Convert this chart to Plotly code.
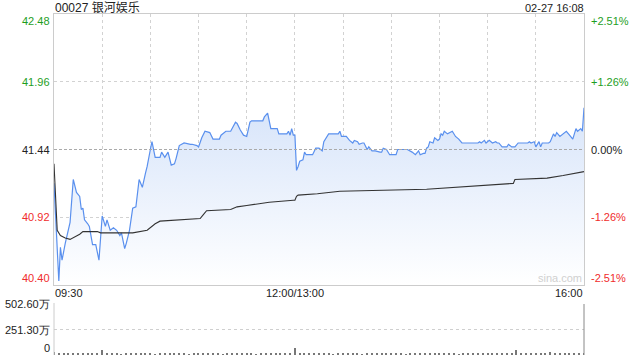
import plotly.graph_objects as go

# ---------------- data ----------------
title_text = "00027 银河娱乐"
stamp_text = "02-27 16:08"
prev_close = 41.44

price_times = ["09:30","09:33","09:34","09:35","09:37","09:40","09:42","09:44","09:46","09:47",
               "09:48","09:49","09:51","09:52","09:54","09:56","09:58","09:59","10:00","10:02",
               "10:03","10:05","10:07","10:09","10:11","10:12","10:14","10:15","10:17","10:19",
               "10:21","10:23","10:25","10:27","10:28","10:30","10:31","10:33","10:36","10:37",
               "10:39","10:41","10:42","10:43","10:45","10:46","10:48","10:51","10:55","10:56",
               "10:59","11:00","11:02","11:04","11:07","11:09","11:13","11:14","11:17","11:20",
               "11:23","11:24","11:26","11:28","11:30","11:32","11:33","11:40","11:41","11:43",
               "11:45","11:49","11:50","11:55","11:56","11:57","11:58","11:59","12:00",
               "13:01","13:02","13:03","13:05","13:06","13:07","13:09","13:11","13:13","13:15",
               "13:16","13:17","13:18","13:21","13:22","13:27","13:28","13:29","13:32","13:34",
               "13:36","13:37","13:39","13:40","13:42","13:43","13:45","13:46","13:48","13:50",
               "13:53","13:54","13:55","13:57","13:59","14:03","14:04","14:09","14:10","14:13",
               "14:15","14:17","14:18","14:20","14:21","14:22","14:23","14:24","14:26","14:27",
               "14:29","14:30","14:31","14:32","14:33","14:35","14:37","14:38","14:40","14:42",
               "14:44","14:48","14:54","14:55","14:56","14:58","14:59","15:01","15:03","15:05",
               "15:06","15:07","15:09","15:12","15:13","15:15","15:17","15:19","15:22","15:25",
               "15:26","15:27","15:29","15:30","15:32","15:33","15:34","15:38","15:39","15:41",
               "15:42","15:43","15:45","15:47","15:49","15:51","15:53","15:55","15:56","15:58",
               "15:59","16:00"]
price_values = [41.18,40.43,40.69,40.59,40.72,40.88,41.21,41.11,41.08,40.98,
                40.99,40.90,40.87,40.85,40.71,40.71,40.59,40.77,40.93,40.85,
                40.90,40.82,40.84,40.82,40.78,40.80,40.68,40.72,40.82,40.99,
                41.00,41.21,41.15,41.26,41.31,41.44,41.50,41.38,41.38,41.42,
                41.38,41.42,41.36,41.32,41.33,41.37,41.47,41.49,41.48,41.48,
                41.47,41.46,41.53,41.58,41.57,41.52,41.52,41.55,41.58,41.58,
                41.65,41.64,41.59,41.55,41.54,41.65,41.66,41.66,41.69,41.72,
                41.60,41.60,41.56,41.56,41.58,41.55,41.60,41.55,41.55,
                41.28,41.31,41.35,41.36,41.42,41.40,41.40,41.40,41.45,41.45,
                41.44,41.43,41.50,41.56,41.56,41.56,41.58,41.54,41.54,41.51,
                41.49,41.51,41.50,41.48,41.49,41.49,41.44,41.46,41.43,41.43,
                41.42,41.42,41.45,41.44,41.40,41.40,41.44,41.44,41.44,41.42,
                41.40,41.43,41.40,41.41,41.41,41.45,41.46,41.50,41.49,41.53,
                41.51,41.52,41.56,41.55,41.58,41.56,41.57,41.58,41.54,41.52,
                41.49,41.49,41.49,41.50,41.49,41.51,41.49,41.51,41.49,41.50,
                41.49,41.49,41.46,41.46,41.48,41.46,41.46,41.49,41.49,41.49,
                41.50,41.49,41.50,41.46,41.50,41.46,41.49,41.49,41.50,41.56,
                41.54,41.57,41.54,41.56,41.58,41.55,41.52,41.60,41.58,41.60,
                41.58,41.76]

avg_times = ["09:30","09:32","09:34","09:37","09:40","09:43","09:46","09:48","09:52","09:57",
             "09:59","10:19","10:28","10:31","10:33","10:36","10:46","11:01","11:03","11:05",
             "11:20","11:24","11:30","11:42","11:44","11:59","12:00","13:01","13:02","13:14",
             "13:28","14:22","15:01","15:16","15:17","15:31","15:37","15:47","16:00"]
avg_values = [41.33,40.82,40.78,40.76,40.75,40.77,40.79,40.81,40.81,40.81,
              40.80,40.80,40.82,40.85,40.87,40.89,40.90,40.91,40.94,40.97,
              40.98,41.00,41.01,41.03,41.035,41.05,41.05,41.08,41.09,41.10,
              41.12,41.135,41.17,41.18,41.21,41.22,41.22,41.24,41.27]

# volume in 万 shares, one bar every 3 trading minutes from 09:30
volume_values = [30,24,14,12,10,12,11,13,10,12,
                 45,12,10,11,9,12,10,11,12,10,
                 11,9,10,12,10,11,13,10,9,11,
                 12,10,11,10,12,9,11,10,12,10,
                 11,10,9,12,10,11,10,12,11,10,
                 70,14,12,11,10,12,10,11,9,12,
                 10,11,12,10,9,11,12,10,11,10,
                 12,11,10,9,12,10,11,10,12,11,
                 10,12,11,10,9,12,11,10,12,10,
                 11,10,12,11,10,12,50,14,12,11,
                 10,12,11,30,10,12,11,10,12,11,
                 13]

left_ticks = [42.48, 41.96, 41.44, 40.92, 40.40]
right_ticks = ["+2.51%", "+1.26%", "0.00%", "-1.26%", "-2.51%"]
vol_ticks = [502.60, 251.30, 0]
vol_tick_text = ["502.60万", "251.30万", "0"]
x_labels = ["09:30", "12:00/13:00", "16:00"]

# ---------------- helpers ----------------
def minute_index(t):
    h, m = map(int, t.split(":"))
    mins = h * 60 + m
    if mins <= 12 * 60:
        return mins - (9 * 60 + 30)
    return 150 + mins - 13 * 60

px = [minute_index(t) for t in price_times]
ax = [minute_index(t) for t in avg_times]
vx = [i * 3 for i in range(len(volume_values))]

GREEN = "#1e9e1e"
RED = "#f02c2c"
BLACK = "#222222"
FONT = "Liberation Sans, Arial, sans-serif"

fig = go.Figure()
fig.add_trace(go.Scatter(
    x=px, y=price_values, mode="lines",
    line=dict(color="#5a90ee", width=1.2),
    fill="tozeroy",
    fillgradient=dict(type="vertical",
                      colorscale=[[0, "rgba(255,255,255,1)"], [1, "rgba(216,229,250,1)"]],
                      start=40.40, stop=41.75),
    hoverinfo="skip", xaxis="x", yaxis="y"))
fig.add_trace(go.Scatter(
    x=ax, y=avg_values, mode="lines",
    line=dict(color="#333333", width=1.1),
    hoverinfo="skip", xaxis="x", yaxis="y"))
fig.add_trace(go.Bar(
    x=vx, y=volume_values, width=0.7,
    marker=dict(color="#777777", line=dict(width=0)),
    hoverinfo="skip", xaxis="x2", yaxis="y2"))

xdom = [54 / 640, 584 / 640]
fig.update_layout(
    width=640, height=360,
    margin=dict(l=0, r=0, t=0, b=0),
    paper_bgcolor="white", plot_bgcolor="white",
    showlegend=False,
    font=dict(family=FONT, size=11, color=BLACK),
    xaxis=dict(domain=xdom, range=[0, 330], tickvals=list(range(0, 331, 30)),
               showticklabels=False, ticks="", showgrid=True, gridcolor="#d2d2d2",
               griddash="dot", gridwidth=1, zeroline=False,
               showline=True, linecolor="#cccccc", mirror=True, anchor="y"),
    yaxis=dict(domain=[1 - 285 / 360, 1 - 14 / 360], range=[40.40, 42.48],
               tickvals=[41.96, 40.92], showticklabels=False, ticks="",
               showgrid=True, gridcolor="#d2d2d2", griddash="dot", zeroline=False,
               showline=True, linecolor="#cccccc", mirror=True, anchor="x"),
    xaxis2=dict(domain=xdom, range=[0, 330], matches="x", showticklabels=False,
                ticks="", showgrid=False, zeroline=False, showline=False, anchor="y2"),
    yaxis2=dict(domain=[1 - 355 / 360, 1 - 304 / 360], range=[0, 502.6],
                tickvals=[251.3, 502.6], showticklabels=False, ticks="",
                showgrid=True, gridcolor="#cfcfcf", griddash="dot", zeroline=False,
                showline=False, anchor="x2"),
    bargap=0,
)

shapes = [
    dict(type="line", xref="x domain", yref="y", x0=0, x1=1, y0=prev_close, y1=prev_close,
         line=dict(color="#aaaaaa", width=1, dash="3px,2px")),
    dict(type="line", xref="x2 domain", yref="y2 domain", x0=0, x1=0, y0=0, y1=1.02,
         line=dict(color="#cccccc", width=1)),
    dict(type="line", xref="x2 domain", yref="y2 domain", x0=1, x1=1, y0=0, y1=1.0,
         line=dict(color="#888888", width=1)),
]
fig.update_layout(shapes=shapes)

ann = []
left_colors = [GREEN, GREEN, BLACK, RED, RED]
for i, (v, c) in enumerate(zip(left_ticks, left_colors)):
    ya = "middle"
    if i == 0:
        ya = "top"
    elif i == len(left_ticks) - 1:
        ya = "bottom"
    ann.append(dict(x=51, xref="paper", xanchor="right", y=v, yref="y", yanchor=ya,
                    text=str(f"{v:.2f}"), showarrow=False,
                    font=dict(size=11, color=c, family=FONT), xshift=0))
    ann.append(dict(x=590, xref="paper", xanchor="left", y=v, yref="y", yanchor=ya,
                    text=right_ticks[i], showarrow=False,
                    font=dict(size=11, color=c, family=FONT)))
# convert paper x in pixels
for a in ann:
    a["x"] = a["x"] / 640

for v, t in zip(vol_ticks, vol_tick_text):
    ann.append(dict(x=51 / 640, xref="paper", xanchor="right", y=v, yref="y2",
                    yanchor="bottom" if v == 0 else "middle", yshift=0,
                    text=t, showarrow=False, font=dict(size=11, color=BLACK, family=FONT)))

ann.append(dict(x=0, xref="x", xanchor="left", y=1 - 293 / 360, yref="paper", yanchor="middle",
                text=x_labels[0], showarrow=False, font=dict(size=11, color=BLACK, family=FONT)))
ann.append(dict(x=150, xref="x", xanchor="center", y=1 - 293 / 360, yref="paper", yanchor="middle",
                text=x_labels[1], showarrow=False, font=dict(size=11, color=BLACK, family=FONT)))
ann.append(dict(x=330, xref="x", xanchor="right", y=1 - 293 / 360, yref="paper", yanchor="middle",
                text=x_labels[2], showarrow=False, font=dict(size=11, color=BLACK, family=FONT)))

ann.append(dict(x=54 / 640, xref="paper", xanchor="left", y=1 - 8 / 360, yref="paper",
                yanchor="middle", text=title_text, showarrow=False,
                font=dict(size=12, color=BLACK, family="Liberation Sans, Noto Sans CJK SC, sans-serif")))
ann.append(dict(x=585 / 640, xref="paper", xanchor="right", y=1 - 8 / 360, yref="paper",
                yanchor="middle", text=stamp_text, showarrow=False,
                font=dict(size=11, color=BLACK, family=FONT)))
ann.append(dict(x=583 / 640, xref="paper", xanchor="right", y=1 - 278 / 360, yref="paper",
                yanchor="middle", text="sina.com", showarrow=False,
                font=dict(size=11, color="#d0d0d0", family=FONT)))

for a in ann:
    a.setdefault("xshift", 0)
    a["borderpad"] = 0
fig.update_layout(annotations=ann)

fig.write_html("out.html")
